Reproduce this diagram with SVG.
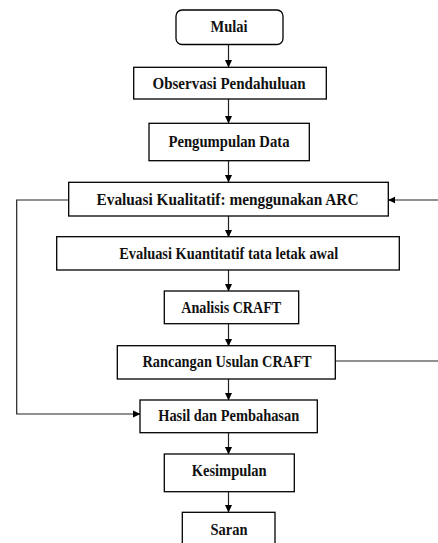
<svg xmlns="http://www.w3.org/2000/svg" width="438" height="543" viewBox="0 0 438 543">
<style>
.box{fill:#fff;stroke:#000;stroke-width:1.3}
text{font-family:'Liberation Serif','DejaVu Serif',serif;font-weight:700;font-size:16.5px;fill:#111;text-anchor:middle}
.c{fill:none;stroke:#222;stroke-width:1.2}
</style>
<defs>
<marker id="ah" markerWidth="8" markerHeight="8" refX="7" refY="4" orient="auto" markerUnits="userSpaceOnUse">
<path d="M0,0.5 L7.5,4 L0,7.5 Z" fill="#000"/>
</marker>
</defs>
<rect width="438" height="543" fill="#fff"/>
<g id="connectors">
<line class="c" x1="228.5" y1="45" x2="228.5" y2="67" marker-end="url(#ah)"/>
<line class="c" x1="228.5" y1="99" x2="228.5" y2="123" marker-end="url(#ah)"/>
<line class="c" x1="228.5" y1="161" x2="228.5" y2="182" marker-end="url(#ah)"/>
<line class="c" x1="228.5" y1="216" x2="228.5" y2="237" marker-end="url(#ah)"/>
<line class="c" x1="228.5" y1="270" x2="228.5" y2="291" marker-end="url(#ah)"/>
<line class="c" x1="228.5" y1="324" x2="228.5" y2="346" marker-end="url(#ah)"/>
<line class="c" x1="228.5" y1="379" x2="228.5" y2="400" marker-end="url(#ah)"/>
<line class="c" x1="228.5" y1="433" x2="228.5" y2="454" marker-end="url(#ah)"/>
<line class="c" x1="228.5" y1="492" x2="228.5" y2="512" marker-end="url(#ah)"/>
<polyline class="c" points="68.7,200 16.7,200 16.7,414 140,414" marker-end="url(#ah)"/>
<line class="c" x1="438" y1="200" x2="388.3" y2="200" marker-end="url(#ah)"/>
<line class="c" x1="335.3" y1="361" x2="438" y2="361"/>
</g>
<g id="mulai"><rect class="box" x="176" y="10" width="107" height="34.5" rx="6"/><text x="229" y="32.3" textLength="37" lengthAdjust="spacingAndGlyphs">Mulai</text></g>
<g id="observasi"><rect class="box" x="133.7" y="67.3" width="192.6" height="31.7"/><text x="229" y="89" textLength="153" lengthAdjust="spacingAndGlyphs">Observasi Pendahuluan</text></g>
<g id="pengumpulan"><rect class="box" x="149" y="123.3" width="160.3" height="37.4"/><text x="229" y="146.5" textLength="121" lengthAdjust="spacingAndGlyphs">Pengumpulan Data</text></g>
<g id="kualitatif"><rect class="box" x="68.7" y="182.3" width="319.6" height="33.7"/><text x="227.5" y="205" textLength="262" lengthAdjust="spacingAndGlyphs">Evaluasi Kualitatif: menggunakan ARC</text></g>
<g id="kuantitatif"><rect class="box" x="56.7" y="236.7" width="342.6" height="33.3"/><text x="228.7" y="258.5" textLength="219" lengthAdjust="spacingAndGlyphs">Evaluasi Kuantitatif tata letak awal</text></g>
<g id="analisis"><rect class="box" x="164.3" y="291" width="134.4" height="32.7"/><text x="231.3" y="312.5" textLength="100" lengthAdjust="spacingAndGlyphs">Analisis CRAFT</text></g>
<g id="rancangan"><rect class="box" x="117.3" y="345.7" width="218" height="33.3"/><text x="227" y="367" textLength="169" lengthAdjust="spacingAndGlyphs">Rancangan Usulan CRAFT</text></g>
<g id="hasil"><rect class="box" x="140" y="400" width="177.3" height="32.7"/><text x="228.7" y="421" textLength="141" lengthAdjust="spacingAndGlyphs">Hasil dan Pembahasan</text></g>
<g id="kesimpulan"><rect class="box" x="164.3" y="454" width="130" height="37.7"/><text x="229.2" y="476" textLength="75" lengthAdjust="spacingAndGlyphs">Kesimpulan</text></g>
<g id="saran"><rect class="box" x="182.3" y="512.3" width="92.7" height="40"/><text x="229" y="534.5" textLength="37" lengthAdjust="spacingAndGlyphs">Saran</text></g>
</svg>
